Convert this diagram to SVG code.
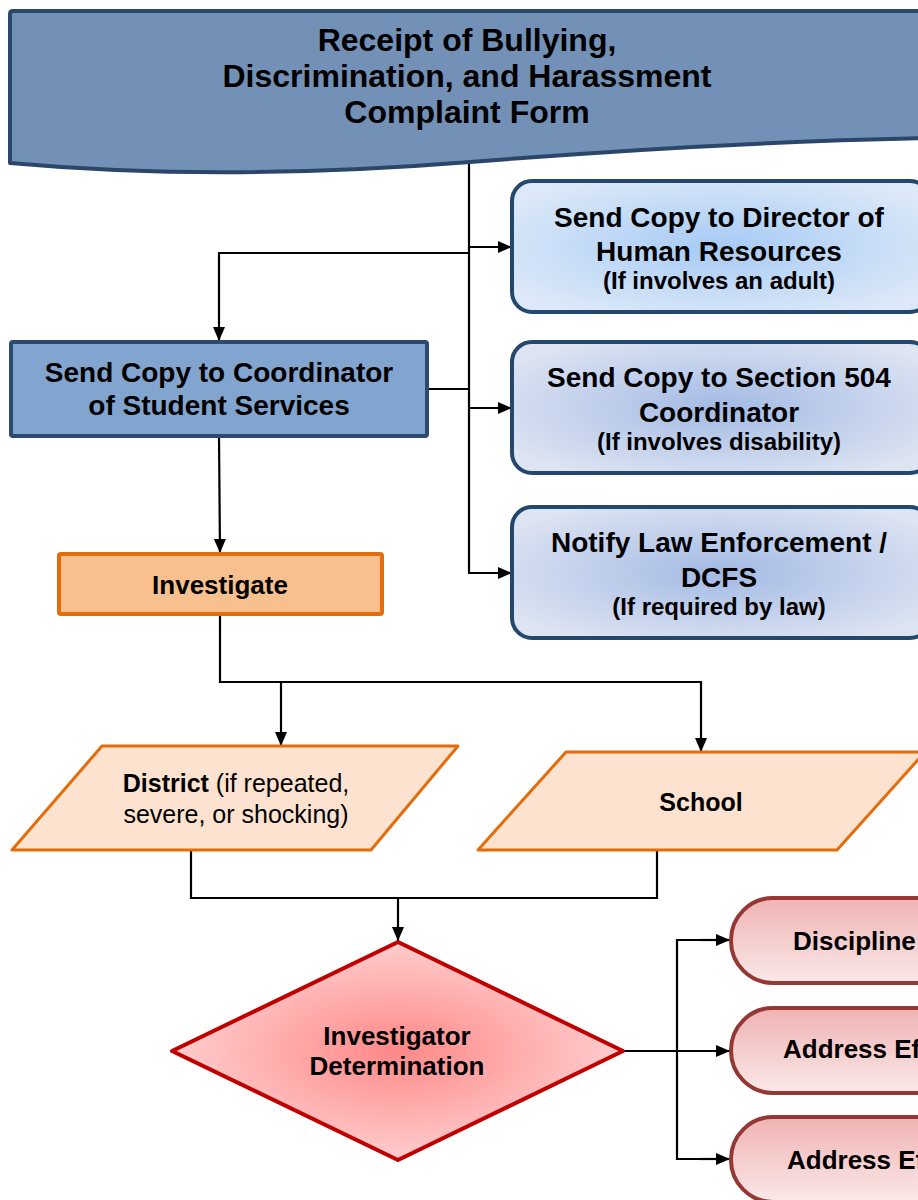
<svg xmlns="http://www.w3.org/2000/svg" width="918" height="1200" viewBox="0 0 918 1200">
<style>
text{font-family:"Liberation Sans",Arial,sans-serif;fill:#000;text-anchor:middle;font-weight:bold}
.conn{stroke:#000;stroke-width:2.2;fill:none}
.reg{font-weight:normal}
</style>
<defs>
<marker id="ah" viewBox="0 0 14 12" refX="14" refY="6" markerWidth="14" markerHeight="12" markerUnits="userSpaceOnUse" orient="auto">
<path d="M0,0 L14,6 L0,12 z" fill="#000"/>
</marker>
<radialGradient id="g1" cx="50%" cy="50%" r="60%"><stop offset="0" stop-color="#A6CAF5"/><stop offset="1" stop-color="#DDE9F8"/></radialGradient>
<radialGradient id="g2" cx="50%" cy="50%" r="60%"><stop offset="0" stop-color="#A3BAE4"/><stop offset="1" stop-color="#DDE4F2"/></radialGradient>
<radialGradient id="gd" cx="50%" cy="50%" r="55%"><stop offset="0" stop-color="#FF8888"/><stop offset="1" stop-color="#FFD4D4"/></radialGradient>
<linearGradient id="gt" x1="0" y1="0" x2="0" y2="1"><stop offset="0" stop-color="#F0B3B3"/><stop offset="1" stop-color="#FAE8E8"/></linearGradient>
</defs>

<g id="connectors">
<line class="conn" x1="469" y1="163" x2="469" y2="573"/>
<line class="conn" x1="469" y1="247" x2="512" y2="247" marker-end="url(#ah)"/>
<line class="conn" x1="469" y1="408" x2="512" y2="408" marker-end="url(#ah)"/>
<line class="conn" x1="468" y1="573" x2="512" y2="573" marker-end="url(#ah)"/>
<polyline class="conn" points="469,253 219,253 219,341" marker-end="url(#ah)"/>
<line class="conn" x1="428" y1="389" x2="469" y2="389"/>
<line class="conn" x1="219" y1="437" x2="220" y2="553" marker-end="url(#ah)"/>
<polyline class="conn" points="220,615 220,682 701,682"/>
<line class="conn" x1="281" y1="682" x2="281" y2="746" marker-end="url(#ah)"/>
<line class="conn" x1="701" y1="681" x2="701" y2="752" marker-end="url(#ah)"/>
<polyline class="conn" points="191,850 191,898 657,898 657,850"/>
<line class="conn" x1="398" y1="898" x2="398" y2="941" marker-end="url(#ah)"/>
<line class="conn" x1="623" y1="1051" x2="730" y2="1051" marker-end="url(#ah)"/>
<polyline class="conn" points="716,940 677,940 677,1159 716,1159"/>
<line class="conn" x1="700" y1="940" x2="730" y2="940" marker-end="url(#ah)"/>
<line class="conn" x1="700" y1="1159" x2="730" y2="1159" marker-end="url(#ah)"/>
</g>

<g id="banner">
<path d="M10,14 Q10,11 13,11 L930,11 L930,138 Q720,142 470,162 T10,163 Z" fill="#7391B6" stroke="#2A4668" stroke-width="4" stroke-linejoin="round"/>
<text x="467" y="51" font-size="32">Receipt of Bullying,</text>
<text x="467" y="87" font-size="32">Discrimination, and Harassment</text>
<text x="467" y="123" font-size="32">Complaint Form</text>
</g>

<g id="hr">
<rect x="512" y="181" width="418" height="131" rx="20" fill="url(#g1)" stroke="#24476D" stroke-width="4"/>
<text x="719" y="227" font-size="28">Send Copy to Director of</text>
<text x="719" y="261" font-size="28">Human Resources</text>
<text x="719" y="289" font-size="24">(If involves an adult)</text>
</g>

<g id="s504">
<rect x="512" y="342" width="418" height="131" rx="20" fill="url(#g2)" stroke="#24476D" stroke-width="4"/>
<text x="719" y="387" font-size="28">Send Copy to Section 504</text>
<text x="719" y="422" font-size="28">Coordinator</text>
<text x="719" y="450" font-size="24">(If involves disability)</text>
</g>

<g id="law">
<rect x="512" y="507" width="418" height="131" rx="20" fill="url(#g2)" stroke="#24476D" stroke-width="4"/>
<text x="719" y="552" font-size="28">Notify Law Enforcement /</text>
<text x="719" y="587" font-size="28">DCFS</text>
<text x="719" y="615" font-size="24">(If required by law)</text>
</g>

<g id="coordinator">
<rect x="11" y="342" width="416" height="94" rx="2" fill="#82A5D0" stroke="#2B4A6E" stroke-width="4"/>
<text x="219" y="382" font-size="28">Send Copy to Coordinator</text>
<text x="219" y="415" font-size="28">of Student Services</text>
</g>

<g id="investigate">
<rect x="59" y="554" width="323" height="60" rx="2" fill="#F9C08F" stroke="#E46C0A" stroke-width="4"/>
<text x="220" y="594" font-size="26">Investigate</text>
</g>

<g id="district">
<polygon points="102,746 458,746 371,850 12,850" fill="#FDE3CF" stroke="#E46C0A" stroke-width="3" stroke-linejoin="round"/>
<text x="236" y="792" font-size="25">District<tspan class="reg"> (if repeated,</tspan></text>
<text x="236" y="823" font-size="25" class="reg">severe, or shocking)</text>
</g>

<g id="school">
<polygon points="566,752 925,752 837,850 478,850" fill="#FDE3CF" stroke="#E46C0A" stroke-width="3" stroke-linejoin="round"/>
<text x="701" y="811" font-size="25">School</text>
</g>

<g id="determination">
<polygon points="398,942 623,1051 398,1160 172,1051" fill="url(#gd)" stroke="#C00000" stroke-width="4" stroke-linejoin="round"/>
<text x="397" y="1045" font-size="26">Investigator</text>
<text x="397" y="1075" font-size="26">Determination</text>
</g>

<g id="discipline">
<rect x="731" y="898" width="260" height="85" rx="42" fill="url(#gt)" stroke="#953735" stroke-width="4"/>
<text x="793" y="950" font-size="26" style="text-anchor:start">Discipline</text>
</g>

<g id="address1">
<rect x="731" y="1008" width="260" height="85" rx="42" fill="url(#gt)" stroke="#953735" stroke-width="4"/>
<text x="783" y="1058" font-size="26" style="text-anchor:start">Address Ef</text>
</g>

<g id="address2">
<rect x="731" y="1117" width="260" height="85" rx="42" fill="url(#gt)" stroke="#953735" stroke-width="4"/>
<text x="787" y="1169" font-size="26" style="text-anchor:start">Address Ef</text>
</g>
</svg>
